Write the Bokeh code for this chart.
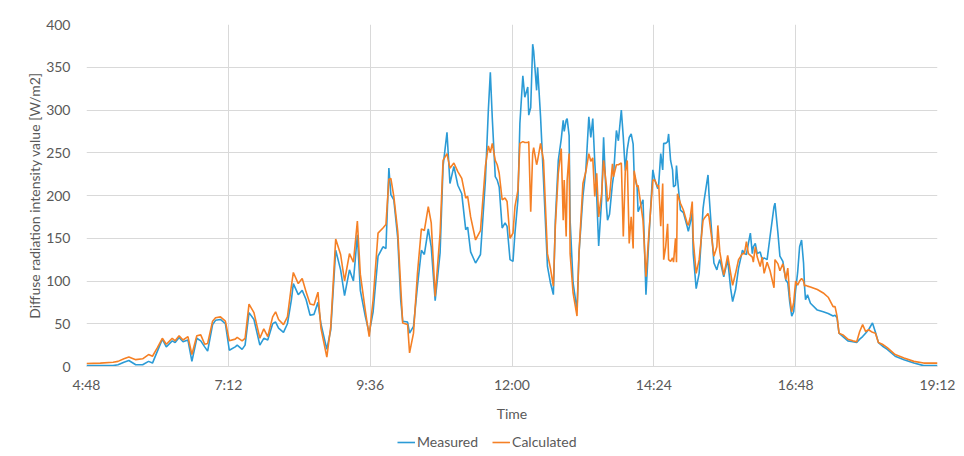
from bokeh.plotting import figure
from bokeh.layouts import column
from bokeh.models import FixedTicker, Legend, LegendItem, Range1d
from bokeh.embed import file_html
from bokeh.resources import INLINE

# time in minutes after midnight
time_min = [288, 302, 315, 320, 326, 331, 338, 345, 351, 355, 360, 365, 369, 375, 378, 382, 386, 391, 395, 400,
            404, 408, 411, 416, 419, 424, 429, 433, 439, 441, 446, 449, 453, 458, 464, 468, 472, 477, 480, 483,
            488, 492, 496, 498, 503, 507, 511, 515, 519, 523, 526, 532, 536, 541, 546, 550, 555, 559, 563, 566,
            571, 575, 579, 584, 589, 592, 595, 597, 600, 604, 607, 609, 614, 616, 620, 624, 628, 631, 635, 638,
            642, 647, 650, 654, 657, 661, 665, 669, 673, 675, 678, 683, 688, 693, 696, 698, 700, 703, 705, 707,
            710, 713, 715, 718, 721, 723, 726, 728, 731, 733, 736, 737, 739, 741, 742, 745, 746, 749, 752, 756,
            759, 762, 764, 767, 770, 772, 773, 775, 776, 778, 779, 782, 786, 788, 792, 795, 798, 800, 802, 804,
            806, 808, 811, 813, 816, 817, 819, 822, 823, 826, 828, 831, 833, 835, 837, 839, 841, 843, 844, 847,
            848, 853, 856, 859, 863, 865, 868, 869, 871, 873, 874, 876, 878, 879, 881, 883, 884, 886, 887, 888,
            891, 894, 898, 899, 901, 903, 904, 907, 910, 914, 915, 919, 920, 923, 925, 928, 929, 931, 935, 937,
            939, 942, 944, 947, 950, 954, 956, 958, 960, 962, 964, 965, 967, 969, 972, 974, 976, 979, 982, 986,
            987, 990, 992, 995, 998, 1000, 1002, 1004, 1006, 1008, 1010, 1012, 1014, 1016, 1017, 1018, 1020, 1023, 1030, 1036,
            1041, 1046, 1048, 1050, 1052, 1056, 1061, 1066, 1070, 1073, 1076, 1079, 1082, 1086, 1089, 1092, 1096, 1101, 1109, 1118,
            1128, 1138, 1152]

measured = [1, 1, 1, 2, 5, 7, 2, 2, 6, 4, 18, 32, 23, 30, 28, 34, 29, 31, 6, 33,
            30, 23, 18, 49, 54, 55, 50, 19, 23, 25, 20, 25, 63, 55, 25, 33, 31, 50, 52, 45,
            40, 50, 78, 97, 84, 89, 78, 60, 61, 75, 50, 20, 43, 136, 113, 83, 113, 100, 154, 89,
            59, 39, 64, 129, 140, 138, 232, 201, 195, 150, 78, 53, 52, 39, 47, 94, 136, 131, 161, 140,
            77, 133, 234, 274, 214, 234, 212, 202, 160, 163, 134, 121, 131, 218, 300, 344, 290, 222, 218, 210,
            162, 168, 164, 125, 123, 156, 195, 284, 340, 315, 327, 294, 303, 377, 369, 323, 350, 292, 218, 117,
            98, 84, 171, 241, 266, 288, 275, 288, 290, 270, 171, 98, 66, 132, 199, 230, 292, 268, 290, 240,
            199, 141, 195, 268, 186, 171, 178, 214, 222, 276, 264, 300, 268, 229, 254, 268, 272, 260, 225, 210,
            181, 195, 84, 150, 230, 218, 208, 214, 249, 230, 261, 261, 263, 272, 241, 230, 210, 212, 235, 220,
            183, 180, 163, 158, 168, 180, 132, 91, 109, 185, 194, 224, 202, 152, 121, 113, 118, 125, 105, 115,
            125, 91, 76, 90, 115, 136, 132, 131, 144, 156, 132, 140, 144, 132, 134, 125, 127, 125, 152, 187,
            191, 156, 129, 123, 101, 98, 75, 59, 64, 90, 110, 140, 148, 121, 94, 78, 84, 74, 66, 64,
            62, 59, 60, 57, 39, 35, 30, 29, 28, 32, 35, 39, 43, 51, 40, 28, 24, 20, 12, 8,
            4, 1, 1]

calculated = [3.5, 4, 5, 6, 9, 11, 8, 9, 14, 12, 22, 33, 26, 33, 30, 36, 31, 35, 14, 36,
              37, 26, 27, 53, 57, 58, 53, 30, 32, 34, 30, 33, 73, 63, 33, 44, 35, 58, 64, 55,
              49, 58, 94, 110, 97, 103, 87, 73, 72, 87, 45, 11, 47, 149, 131, 100, 132, 122, 170, 108,
              66, 35, 78, 156, 162, 166, 219, 220, 199, 158, 94, 51, 49, 16, 39, 109, 161, 159, 187, 168,
              82, 156, 241, 249, 232, 238, 228, 220, 197, 199, 175, 148, 159, 234, 258, 250, 261, 241, 236, 226,
              195, 197, 193, 150, 156, 187, 206, 261, 263, 262, 262, 263, 181, 249, 256, 236, 241, 261, 241, 132,
              115, 94, 164, 226, 255, 171, 218, 152, 218, 249, 132, 86, 59, 132, 214, 228, 249, 240, 244, 199,
              226, 175, 202, 241, 210, 193, 198, 237, 222, 236, 236, 238, 152, 228, 241, 144, 175, 138, 229, 210,
              212, 171, 105, 156, 218, 218, 210, 212, 164, 214, 125, 140, 167, 125, 123, 127, 122, 150, 122, 202,
              191, 183, 167, 165, 175, 193, 148, 109, 125, 171, 173, 179, 175, 148, 129, 140, 165, 134, 107, 118,
              130, 109, 95, 109, 125, 132, 132, 146, 132, 130, 128, 122, 140, 128, 117, 128, 109, 122, 112, 92,
              125, 120, 112, 120, 102, 115, 82, 64, 75, 100, 95, 100, 103, 100, 94, 95, 94, 93, 90, 86,
              81, 70, 70, 59, 39, 37, 32, 30, 29, 41, 49, 41, 43, 40, 39, 28, 26, 22, 14, 10,
              6, 4, 4]

x_ticks = [288, 432, 576, 720, 864, 1008, 1152]
x_tick_labels = ["4:48", "7:12", "9:36", "12:00", "14:24", "16:48", "19:12"]
y_ticks = [0, 50, 100, 150, 200, 250, 300, 350, 400]
series_names = ["Measured", "Calculated"]
series_colors = ["#2B9BD6", "#F58025"]

FONT = "Lato"
TXT = "#595959"
GRID = "#d9d9d9"

p = figure(width=964, height=424, output_backend="svg", toolbar_location=None,
           x_range=Range1d(288, 1152), y_range=Range1d(0, 400),
           min_border_left=86, min_border_right=27, min_border_top=24, min_border_bottom=57)
p.outline_line_color = None
p.background_fill_color = "white"
p.border_fill_color = "white"

p.xaxis.ticker = FixedTicker(ticks=x_ticks)
p.xaxis.major_label_overrides = dict(zip(x_ticks, x_tick_labels))
p.yaxis.ticker = FixedTicker(ticks=y_ticks)
p.xgrid.ticker = FixedTicker(ticks=x_ticks)
p.ygrid.ticker = FixedTicker(ticks=y_ticks)
p.grid.grid_line_color = GRID
p.grid.grid_line_width = 1

for ax in (p.xaxis, p.yaxis):
    ax.major_tick_line_color = None
    ax.minor_tick_line_color = None
    ax.major_tick_out = 0
    ax.major_tick_in = 0
    ax.minor_tick_out = 0
    ax.major_label_text_font = FONT
    ax.major_label_text_font_size = "14px"
    ax.major_label_text_color = TXT
    ax.axis_label_text_font = FONT
    ax.axis_label_text_font_size = "14px"
    ax.axis_label_text_color = TXT
    ax.axis_label_text_font_style = "normal"

p.xaxis.axis_line_color = GRID
p.yaxis.axis_line_color = None
p.xaxis.axis_label = "Time"
p.yaxis.axis_label = "Diffuse radiation intensity value [W/m2]"
p.xaxis.major_label_standoff = 9
p.xaxis.axis_label_standoff = 9
p.yaxis.major_label_standoff = 16
p.yaxis.axis_label_standoff = 0

p.line(time_min, measured, line_color=series_colors[0], line_width=1.6)
p.line(time_min, calculated, line_color=series_colors[1], line_width=1.6)

# legend strip under the chart (its frame is aligned with the chart's frame)
pl = figure(width=964, height=32, output_backend="svg", toolbar_location=None,
            x_range=Range1d(0, 1), y_range=Range1d(0, 1),
            x_axis_type=None, y_axis_type=None,
            min_border_left=0, min_border_right=0, min_border_top=0, min_border_bottom=0)
pl.outline_line_color = None
pl.grid.visible = False
pl.background_fill_color = "white"
pl.border_fill_color = "white"
items = []
for name, col in zip(series_names, series_colors):
    r = pl.line(x=[-2, -1], y=[-2, -1], line_color=col, line_width=1.6)
    items.append(LegendItem(label=name, renderers=[r]))
legend = Legend(items=items, orientation="horizontal", location=(311, 6),
                padding=0, margin=0, spacing=14, glyph_width=18, glyph_height=16,
                label_standoff=2, label_height=16,
                label_text_font=FONT, label_text_font_size="14px", label_text_color=TXT,
                border_line_color=None, background_fill_alpha=0)
pl.add_layout(legend, "center")

layout = column(p, pl, spacing=0)
open("out.html", "w").write(file_html(layout, INLINE))
